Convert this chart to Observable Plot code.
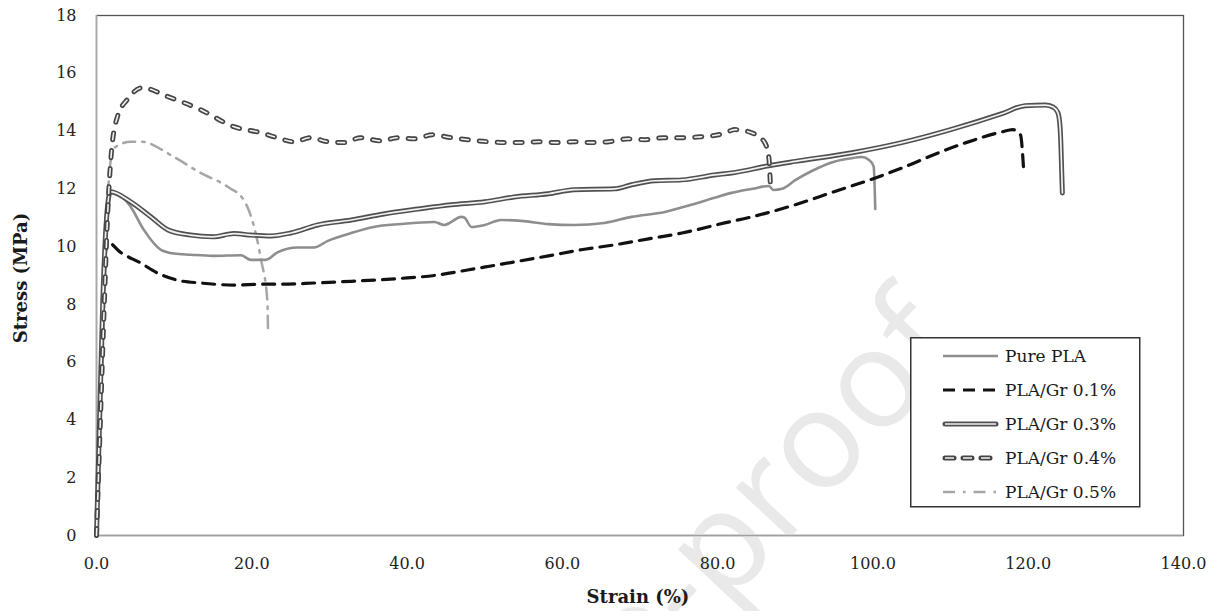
<!DOCTYPE html>
<html>
<head>
<meta charset="utf-8">
<script src="https://cdn.jsdelivr.net/npm/d3@7"></script>
<script src="https://cdn.jsdelivr.net/npm/@observablehq/plot@0.6"></script>
<style>
  html, body { margin: 0; padding: 0; background: #fff; }
  #wrap { position: relative; width: 1216px; height: 611px; overflow: hidden; }
  #legend { position: absolute; left: 910px; top: 337px; }
</style>
</head>
<body>
<div id="wrap"><div id="chart"></div><div id="legend"></div></div>
<script>
// ---------- data ----------
const seriesNames = ["Pure PLA", "PLA/Gr 0.1%", "PLA/Gr 0.3%", "PLA/Gr 0.4%", "PLA/Gr 0.5%"];

const pureStrain = [0, 0.4, 0.8, 1.2, 1.7, 3, 4.4, 6.1, 8.3, 10, 12.1, 15, 18.6, 19.9, 21.8, 23.3, 25.9, 28, 29.8, 32.8, 35.7, 39.2, 43.5, 44.8, 47, 47.4, 48.3, 50, 52.1, 54.7, 58.2, 61.5, 65.4, 68.9, 73.2, 76.6, 79.6, 81.8, 84.5, 86.6, 87.2, 88.3, 90, 92, 95, 97, 98.6, 99.5, 100.1, 100.3];
const pureStress = [0, 4, 8, 11, 11.9, 11.8, 11.38, 10.58, 9.89, 9.76, 9.72, 9.68, 9.7, 9.54, 9.54, 9.8, 9.97, 9.97, 10.2, 10.47, 10.68, 10.78, 10.85, 10.75, 11.03, 11.0, 10.68, 10.75, 10.92, 10.89, 10.78, 10.75, 10.82, 11.03, 11.2, 11.45, 11.69, 11.86, 12.0, 12.1, 11.96, 12.0, 12.3, 12.6, 12.94, 13.05, 13.1, 13.0, 12.77, 11.3];

const gr01Strain = [0, 0.4, 0.8, 1.4, 3.1, 5.7, 7.9, 10.4, 13.4, 17.7, 21.5, 24.1, 28, 32.8, 39.2, 43.5, 47.8, 50.8, 53.8, 58.2, 62.4, 66.7, 71.1, 75.4, 80.9, 84.4, 90, 95, 99.5, 104, 108, 112, 116.6, 118, 119, 119.4];
const gr01Stress = [0, 4, 8, 10.16, 9.8, 9.43, 9.08, 8.84, 8.74, 8.67, 8.7, 8.7, 8.74, 8.8, 8.9, 9.0, 9.19, 9.33, 9.47, 9.68, 9.89, 10.06, 10.27, 10.47, 10.82, 11.03, 11.45, 11.9, 12.3, 12.75, 13.2, 13.6, 13.97, 14.05, 13.87, 12.7];

const gr03Strain = [0, 0.4, 0.8, 1.3, 1.8, 4.4, 7, 9.2, 12.1, 15, 17.7, 19.9, 22.5, 25, 28.5, 32.8, 37, 41.4, 45.7, 50, 53.8, 58.2, 61.5, 66.7, 68.9, 71.9, 75.4, 79.6, 81.8, 86.6, 90, 97.3, 103.7, 110, 116.6, 119.6, 122.2, 123.2, 123.8, 124.05, 124.2, 124.3, 124.4];
const gr03Stress = [0, 4, 8, 11, 11.9, 11.55, 11.03, 10.58, 10.4, 10.34, 10.45, 10.4, 10.37, 10.47, 10.75, 10.92, 11.13, 11.3, 11.45, 11.55, 11.72, 11.83, 11.97, 12.0, 12.14, 12.28, 12.31, 12.48, 12.55, 12.8, 12.95, 13.25, 13.6, 14.05, 14.6, 14.88, 14.9, 14.83, 14.65, 14.3, 13.6, 12.7, 11.86];

const gr04Strain = [0, 0.5, 1, 1.5, 1.9, 2.7, 4, 5.9, 9.1, 13.4, 17.7, 21.2, 23.3, 25.4, 27.6, 29.8, 31.9, 34, 36.6, 38.8, 40.9, 43.3, 45.7, 47.8, 50.4, 52.8, 54.7, 57, 59.2, 61.5, 63.7, 66, 68.5, 70.6, 73, 75.4, 77.7, 80.1, 81.5, 82.2, 84.4, 86, 86.6, 86.8];
const gr04Stress = [0, 4, 8, 11.5, 13.2, 14.5, 15.1, 15.5, 15.2, 14.74, 14.15, 13.94, 13.77, 13.63, 13.77, 13.63, 13.6, 13.77, 13.66, 13.77, 13.73, 13.87, 13.77, 13.7, 13.63, 13.6, 13.6, 13.63, 13.6, 13.63, 13.6, 13.63, 13.73, 13.7, 13.77, 13.77, 13.8, 13.87, 14.0, 14.05, 13.94, 13.63, 13.07, 12.07];

const gr05Strain = [0, 0.5, 1, 1.5, 2.2, 4.4, 5.7, 10, 13.4, 16.9, 19, 20.3, 21.2, 22, 22.1];
const gr05Stress = [0, 4, 8, 12, 13.4, 13.63, 13.63, 13.1, 12.55, 12.07, 11.6, 10.68, 9.54, 8.15, 6.95];

const xTicks = [0, 20, 40, 60, 80, 100, 120, 140];
const yTicks = [0, 2, 4, 6, 8, 10, 12, 14, 16, 18];

// ---------- build tables ----------
function rows(xs, ys) { return xs.map((x, i) => ({ strain: x, stress: ys[i] })); }
const pure = rows(pureStrain, pureStress);
const gr01 = rows(gr01Strain, gr01Stress);
const gr03 = rows(gr03Strain, gr03Stress);
const gr04 = rows(gr04Strain, gr04Stress);
const gr05 = rows(gr05Strain, gr05Stress);

const serif = "'DejaVu Serif', 'Liberation Serif', serif";
const common = { x: "strain", y: "stress", curve: "monotone-x" };

const chart = Plot.plot({
  width: 1216,
  height: 611,
  marginLeft: 96,
  marginTop: 15,
  marginRight: 33,
  marginBottom: 76,
  style: { fontFamily: serif, background: "#fff", color: "#222" },
  x: { domain: [0, 140], ticks: xTicks, tickFormat: d => d.toFixed(1) },
  y: { domain: [0, 18], ticks: yTicks },
  marks: [
    Plot.frame({ stroke: "#555", strokeWidth: 1.3 }),
    Plot.ruleY([0], { stroke: "#a0a0a0", strokeWidth: 1.5 }),
    Plot.ruleX([0], { stroke: "#a8a8a8", strokeWidth: 1.5 }),
    Plot.axisX({ ticks: xTicks, tickFormat: d => d.toFixed(1), tickSize: 0, tickPadding: 22, fontSize: 16, label: null }),
    Plot.axisY({ ticks: yTicks, tickSize: 0, tickPadding: 20, fontSize: 16, label: null }),
    // PLA/Gr 0.5%
    Plot.line(gr05, { ...common, stroke: "#a6a6a6", strokeWidth: 2.5, strokeDasharray: "12,7,2.5,7" }),
    // Pure PLA
    Plot.line(pure, { ...common, stroke: "#8e8e8e", strokeWidth: 2.6 }),
    // PLA/Gr 0.1%
    Plot.line(gr01, { ...common, stroke: "#111", strokeWidth: 3.2, strokeDasharray: "12,8" }),
    // PLA/Gr 0.3% (double line)
    Plot.line(gr03, { ...common, stroke: "#505050", strokeWidth: 5 }),
    Plot.line(gr03, { ...common, stroke: "#f2f2f2", strokeWidth: 1.7 }),
    // PLA/Gr 0.4% (double dashed line)
    Plot.line(gr04, { ...common, stroke: "#454545", strokeWidth: 5, strokeDasharray: "7,11", strokeLinecap: "round" }),
    Plot.line(gr04, { ...common, stroke: "#f2f2f2", strokeWidth: 1.6, strokeDasharray: "7,11" })
  ]
});

// faint watermark behind the data
const svg = d3.select(chart);
svg.insert("text", "g")
  .attr("transform", "translate(965,350) rotate(-47)")
  .attr("text-anchor", "end")
  .attr("font-family", "'Open Sans', 'DejaVu Sans', sans-serif")
  .attr("font-size", 138)
  .attr("fill", "#e9e9e9")
  .text("Journal Pre-proof");

// axis titles
svg.append("text")
  .attr("x", 638).attr("y", 603)
  .attr("text-anchor", "middle")
  .attr("font-family", serif).attr("font-weight", "bold").attr("font-size", 18)
  .attr("fill", "#1a1a1a")
  .text("Strain (%)");
svg.append("text")
  .attr("transform", "translate(27,278) rotate(-90)")
  .attr("text-anchor", "middle")
  .attr("font-family", serif).attr("font-weight", "bold").attr("font-size", 18)
  .attr("fill", "#1a1a1a")
  .text("Stress (MPa)");

document.getElementById("chart").appendChild(chart);

// ---------- legend ----------
const legendStyles = [
  [{ stroke: "#8e8e8e", w: 2.6 }],
  [{ stroke: "#111", w: 3.2, dash: "12,8" }],
  [{ stroke: "#505050", w: 5, cap: "round" }, { stroke: "#f2f2f2", w: 1.7 }],
  [{ stroke: "#454545", w: 5, dash: "9,9", cap: "round" }, { stroke: "#f2f2f2", w: 1.6, dash: "9,9" }],
  [{ stroke: "#a6a6a6", w: 2.5, dash: "12,8,2.5,8" }]
];
const lg = d3.select("#legend").append("svg").attr("width", 232).attr("height", 172);
lg.append("rect").attr("x", 0.75).attr("y", 0.75).attr("width", 229).attr("height", 169)
  .attr("fill", "#fff").attr("stroke", "#333").attr("stroke-width", 1.5);
seriesNames.forEach((name, i) => {
  const yy = 19 + i * 34;
  const x0 = legendStyles[i].some(s => s.cap === "round") ? 35 : 33;
  const x1 = legendStyles[i].some(s => s.cap === "round") ? 86 : 88;
  legendStyles[i].forEach(s => {
    lg.append("line").attr("x1", x0).attr("x2", x1).attr("y1", yy).attr("y2", yy)
      .attr("stroke", s.stroke).attr("stroke-width", s.w)
      .attr("stroke-dasharray", s.dash || null)
      .attr("stroke-linecap", s.cap || "butt");
  });
  lg.append("text").attr("x", 95).attr("y", yy + 6)
    .attr("font-family", serif).attr("font-size", 17).attr("fill", "#1a1a1a")
    .text(name);
});
</script>
</body>
</html>
